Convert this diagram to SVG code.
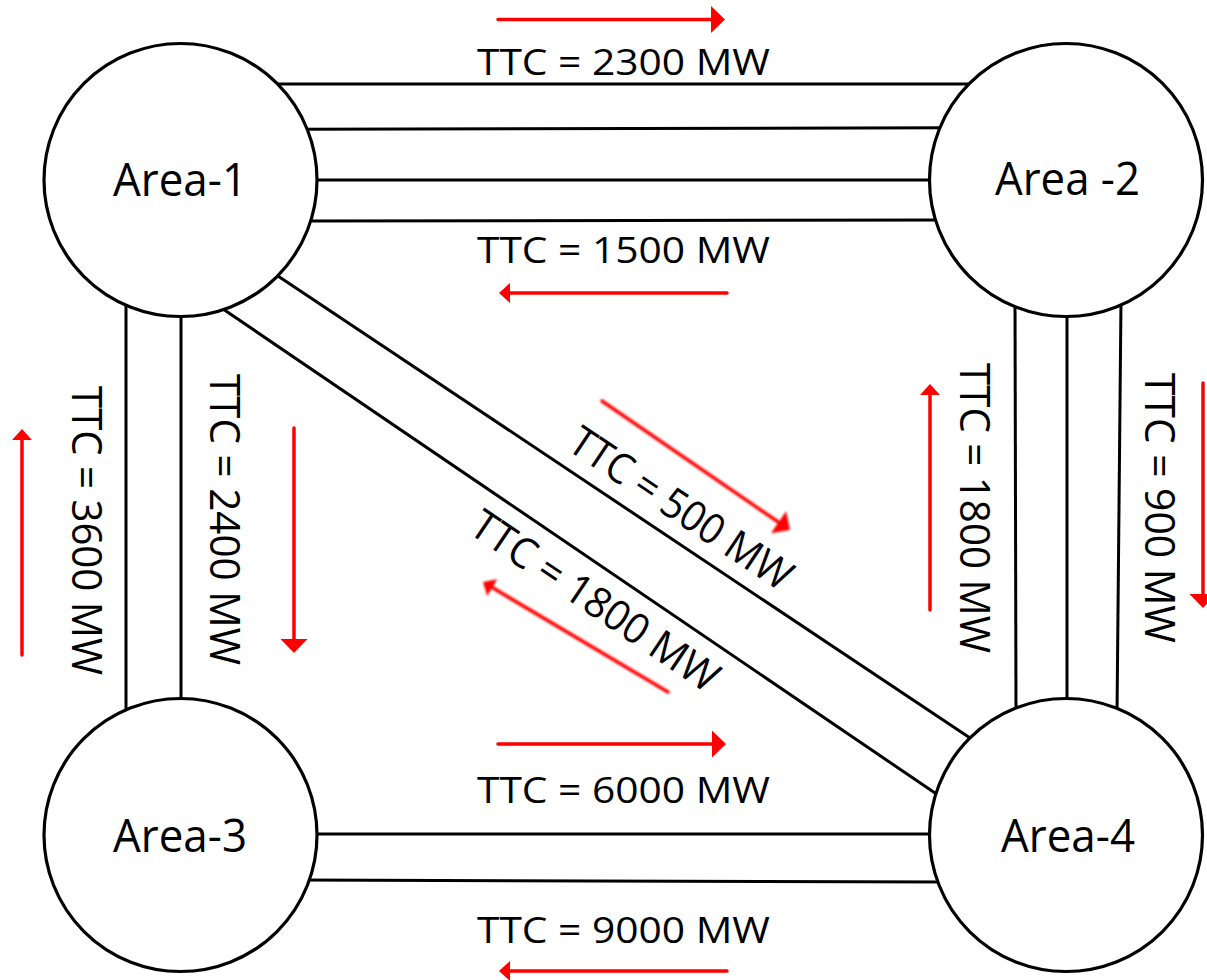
<svg xmlns="http://www.w3.org/2000/svg" width="1207" height="980" viewBox="0 0 1207 980">
  <style>
    .wire { stroke: #000; stroke-width: 3; fill: none; }
    .flow { stroke: #ff0000; stroke-width: 3.5; fill: none; stroke-linecap: round; }
    .blur { filter: url(#soft); }
    .area { fill: #fff; stroke: #000; stroke-width: 3.2; }
    .name { font-family: "Open Sans", "Noto Sans", sans-serif; font-size: 46px; fill: #000; text-anchor: middle; }
    .ttc { font-family: "Open Sans", "Noto Sans", sans-serif; font-size: 36px; fill: #000; text-anchor: middle; }
    .ttcv { font-family: "Open Sans", "Noto Sans", sans-serif; font-size: 42px; fill: #000; text-anchor: middle; }
  </style>
  <defs>
    <marker id="headBig" markerUnits="userSpaceOnUse" markerWidth="14" markerHeight="27" viewBox="0 0 14 27" refX="3" refY="13.5" orient="auto">
      <path d="M0,0 L14,13.5 L0,27 z" fill="#ff0000"/>
    </marker>
    <marker id="headSmall" markerUnits="userSpaceOnUse" markerWidth="11" markerHeight="20" viewBox="0 0 11 20" refX="2" refY="10" orient="auto">
      <path d="M0,0 L11,10 L0,20 z" fill="#ff0000"/>
    </marker>
    <filter id="soft" x="-10%" y="-10%" width="120%" height="120%">
      <feGaussianBlur stdDeviation="0.9"/>
    </filter>
  </defs>
  <rect width="1207" height="980" fill="#fff"/>

  <g id="connectors">
    <!-- Area-1 to Area-2 -->
    <line class="wire" x1="270" y1="84" x2="975" y2="84"/>
    <line class="wire" x1="300" y1="129.3" x2="950" y2="127.7"/>
    <line class="wire" x1="300" y1="180" x2="950" y2="180"/>
    <line class="wire" x1="300" y1="221" x2="945" y2="220"/>
    <!-- Area-1 to Area-3 -->
    <line class="wire" x1="126" y1="300" x2="126" y2="715"/>
    <line class="wire" x1="181" y1="300" x2="181" y2="715"/>
    <!-- Area-2 to Area-4 -->
    <line class="wire" x1="1015" y1="300" x2="1016" y2="715"/>
    <line class="wire" x1="1067" y1="300" x2="1067" y2="715"/>
    <line class="wire" x1="1121" y1="300" x2="1117" y2="715"/>
    <!-- Area-3 to Area-4 -->
    <line class="wire" x1="300" y1="834" x2="945" y2="834"/>
    <line class="wire" x1="300" y1="880" x2="945" y2="882"/>
    <!-- Area-1 to Area-4 -->
    <line class="wire" x1="273.8" y1="273.2" x2="974.2" y2="740.8"/>
    <line class="wire" x1="218.9" y1="306.2" x2="939.1" y2="795.8"/>
  </g>

  <g id="flows">
    <line class="flow" x1="498" y1="19.5" x2="714" y2="19.5" marker-end="url(#headBig)"/>
    <line class="flow" x1="727" y1="293" x2="508" y2="293" marker-end="url(#headSmall)"/>
    <line class="flow" x1="22" y1="655" x2="22" y2="438" marker-end="url(#headSmall)"/>
    <line class="flow" x1="294" y1="428" x2="294" y2="642" marker-end="url(#headBig)"/>
    <line class="flow" x1="930" y1="610" x2="930" y2="393" marker-end="url(#headSmall)"/>
    <line class="flow" x1="1203" y1="383" x2="1203" y2="597" marker-end="url(#headBig)"/>
    <line class="flow" x1="498" y1="744" x2="715" y2="744" marker-end="url(#headBig)"/>
    <line class="flow" x1="727" y1="971" x2="508" y2="971" marker-end="url(#headSmall)"/>
    <line class="flow blur" x1="602" y1="401" x2="780.9" y2="523.8" marker-end="url(#headBig)"/>
    <line class="flow blur" x1="668" y1="692" x2="490.7" y2="586.6" marker-end="url(#headSmall)"/>
  </g>

  <g id="labels">
    <text class="ttc" x="623.5" y="75" textLength="293" lengthAdjust="spacingAndGlyphs">TTC = 2300 MW</text>
    <text class="ttc" x="623.5" y="263" textLength="293" lengthAdjust="spacingAndGlyphs">TTC = 1500 MW</text>
    <text class="ttc" x="623.5" y="803" textLength="293" lengthAdjust="spacingAndGlyphs">TTC = 6000 MW</text>
    <text class="ttc" x="623.5" y="943" textLength="293" lengthAdjust="spacingAndGlyphs">TTC = 9000 MW</text>
    <text class="ttcv" transform="translate(72,530.5) rotate(90)" textLength="289" lengthAdjust="spacingAndGlyphs">TTC = 3600 MW</text>
    <text class="ttcv" transform="translate(210,519.5) rotate(90)" textLength="291" lengthAdjust="spacingAndGlyphs">TTC = 2400 MW</text>
    <text class="ttcv" transform="translate(960,508) rotate(90)" textLength="290" lengthAdjust="spacingAndGlyphs">TTC = 1800 MW</text>
    <text class="ttcv" transform="translate(1145,508) rotate(90)" textLength="270" lengthAdjust="spacingAndGlyphs">TTC = 900 MW</text>
    <text class="ttcv" transform="translate(673,520.5) rotate(33.7)" textLength="258" lengthAdjust="spacingAndGlyphs">TTC = 500 MW</text>
    <text class="ttcv" transform="translate(587,613) rotate(34)" textLength="289" lengthAdjust="spacingAndGlyphs">TTC = 1800 MW</text>
  </g>

  <g id="area-1">
    <circle class="area" cx="180.5" cy="180" r="136.5"/>
    <text class="name" x="180" y="196" textLength="134" lengthAdjust="spacingAndGlyphs">Area-1</text>
  </g>
  <g id="area-2">
    <circle class="area" cx="1066" cy="180" r="136.5"/>
    <text class="name" x="1067.5" y="195" textLength="145" lengthAdjust="spacingAndGlyphs">Area -2</text>
  </g>
  <g id="area-3">
    <circle class="area" cx="180.5" cy="835" r="136.5"/>
    <text class="name" x="180" y="852" textLength="134" lengthAdjust="spacingAndGlyphs">Area-3</text>
  </g>
  <g id="area-4">
    <circle class="area" cx="1066" cy="835" r="136.5"/>
    <text class="name" x="1068" y="852" textLength="134" lengthAdjust="spacingAndGlyphs">Area-4</text>
  </g>
</svg>
